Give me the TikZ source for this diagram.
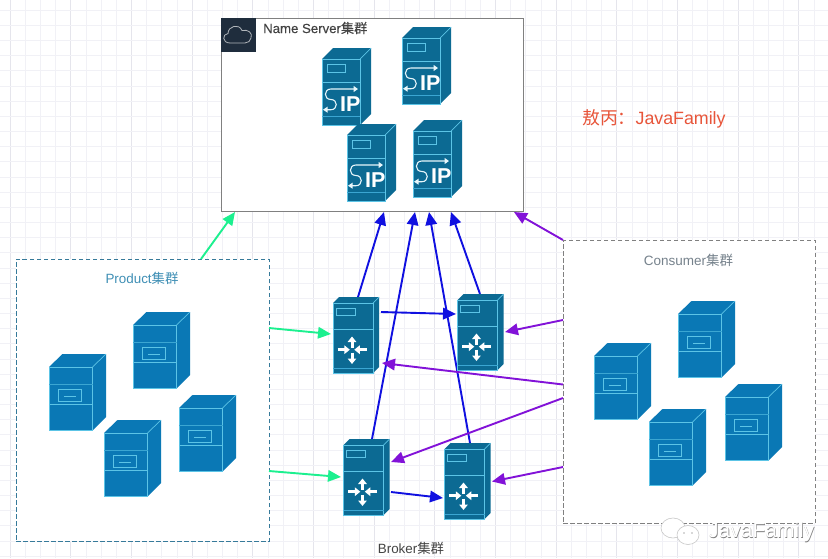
\documentclass[tikz,border=0pt]{standalone}
\usepackage{fontspec}
\setmainfont{Liberation Sans}
\newfontfamily\cjk{Noto Sans CJK SC}
\newfontfamily\cjkb[FakeBold=0.3]{Noto Sans CJK SC}
\newfontfamily\latb[FakeBold=0.3]{Liberation Sans}
\usetikzlibrary{arrows.meta}
\definecolor{gridminor}{HTML}{F1F1F6}
\definecolor{gridmajor}{HTML}{E5E5EC}
\definecolor{clientblue}{HTML}{0A78B5}
\definecolor{routerblue}{HTML}{0C6A93}
\definecolor{edgeblue}{HTML}{5CC4E6}
\definecolor{darksq}{HTML}{1F2D3D}
\definecolor{agreen}{HTML}{1CF08F}
\definecolor{ablue}{HTML}{1010E0}
\definecolor{apurple}{HTML}{8212D8}
\definecolor{prodtxt}{HTML}{3F8FB5}
\definecolor{constxt}{HTML}{76828C}
\definecolor{nametxt}{HTML}{444444}
\definecolor{redtxt}{HTML}{E8553A}
\newcommand{\fsz}[1]{\fontsize{#1}{#1}\selectfont}
\tikzset{
  x=1pt,y=-1pt,
  hold/.style={inner sep=0pt,outer sep=0pt,minimum width=#1},
  gl/.style={line width=.7pt,draw=edgeblue},
  gf/.style={line width=.4pt,draw=edgeblue!60!clientblue},
  flow/.style={line width=1.9pt,-{Triangle[length=13pt,width=11.5pt]}},
  greenflow/.style={flow,agreen},
  blueflow/.style={flow,ablue},
  purpleflow/.style={flow,apurple},
  whitearrow/.style={line width=3pt,white,-{Triangle[length=5.5pt,width=8.5pt]}},
  client/.pic={
    \fill[clientblue] (0,0) -- (13.5,-13) -- (57,-13) -- (57,50) -- (43.5,63.5) -- (0,63.5) -- cycle;
    \draw[gl] (0,0) rectangle (43.5,63.5);
    \draw[gl] (43.5,0) -- (57,-13);
    \draw[gf] (0,17.5) -- (43.5,17.5);
    \draw[gl] (0,37.5) -- (43.5,37.5);
    \draw[gl] (9,22) rectangle (32,34.3);
    \draw[gl] (15,29) -- (27,29);
  },
  ipsrv/.pic={
    \fill[routerblue] (0,0) -- (11,-11) -- (49,-11) -- (49,55) -- (38,66) -- (0,66) -- cycle;
    \draw[gl] (0,0) rectangle (38,66);
    \draw[gl] (38,0) -- (49,-11);
    \draw[gl] (0,23) -- (38,23);
    \draw[gf] (0,57) -- (38,57);
    \draw[gl] (5,5.5) rectangle (23.5,13);
    \draw[white!85!edgeblue,line width=1.1pt,-{Triangle[length=4.5pt,width=6pt]}] (5,50.7) -- (9,50.7) .. controls (16,50.7) and (16,40.5) .. (9,40.5) .. controls (1.5,40.5) and (1.5,30) .. (9,30) -- (36,30);
    \fill[white!85!edgeblue] (1,50.7) -- (5.5,47.7) -- (5.5,53.7) -- cycle;
    \node[font=\bfseries\fsz{21.5},text=white,inner sep=0pt] at (28.3,45.5) {IP};
  },
  router/.pic={
    \fill[routerblue] (0,0) -- (6,-6) -- (46,-6) -- (46,64) -- (40,70) -- (0,70) -- cycle;
    \draw[gl] (0,0) rectangle (40,70);
    \draw[gl] (40,0) -- (46,-6);
    \draw[gl] (0,26.7) -- (40,26.7);
    \draw[gf] (0,65) -- (40,65);
    \draw[gl] (3.3,5) rectangle (22,12.3);
    \draw[whitearrow] (19,44.5) -- (19,33.5);
    \draw[whitearrow] (19,49.5) -- (19,61);
    \draw[whitearrow] (4.5,46.7) -- (16.8,46.7);
    \draw[whitearrow] (33.5,46.7) -- (21.3,46.7);
  },
}
\begin{document}
\begin{tikzpicture}
\useasboundingbox (0,0) rectangle (828,558);
\fill[white] (0,0) rectangle (828,558);
% background grid
\foreach \k in {0,...,54} {
  \pgfmathsetmacro{\px}{10+15.17*\k}
  \pgfmathtruncatemacro{\mj}{mod(\k,4)}
  \ifnum\mj=0 \draw[gridmajor,line width=.7pt] (\px,0) -- (\px,558);
  \else \draw[gridminor,line width=.7pt] (\px,0) -- (\px,558); \fi
}
\foreach \k in {0,...,36} {
  \pgfmathsetmacro{\py}{10+15.17*\k}
  \draw[gridminor,line width=.7pt] (0,\py) -- (828,\py);
}
% containers
\node[draw=black!50,fill=white,line width=.9pt,minimum width=302pt,minimum height=193pt,inner sep=0pt] (nameBox) at (372,114.5) {};
\node[draw=prodtxt!85!black,fill=white,dash pattern=on 4.5pt off 2.5pt,line width=.85pt,minimum width=253pt,minimum height=282pt,inner sep=0pt] (prodBox) at (142.5,400) {};
\node[draw=black!50,fill=white,dash pattern=on 4.5pt off 2.5pt,line width=.85pt,minimum width=252pt,minimum height=283pt,inner sep=0pt] (consBox) at (689,381.5) {};
% broker placeholders for connector ends
\node[hold=46pt,minimum height=76pt] (rA) at (356,335) {};
\node[hold=46pt,minimum height=76pt] (rB) at (480.5,332) {};
\node[hold=46pt,minimum height=76pt] (rC) at (366.5,477) {};
\node[hold=46pt,minimum height=76pt] (rD) at (467.5,481) {};
% connectors
\draw[greenflow] ([shift={(58.5,-141)}]prodBox.center) -- ([shift={(-137,97.5)}]nameBox.center);
\draw[greenflow] ([shift={(126.5,-72)}]prodBox.center) -- ([shift={(-25,-1)}]rA.center);
\draw[greenflow] ([shift={(126.5,71)}]prodBox.center) -- ([shift={(-25.5,0)}]rC.center);
\draw[blueflow] ([shift={(2,-38)}]rA.center) -- ([shift={(12,97.5)}]nameBox.center);
\draw[blueflow] ([shift={(-0.5,-38)}]rB.center) -- ([shift={(79,97.5)}]nameBox.center);
\draw[blueflow] ([shift={(5.5,-38)}]rC.center) -- ([shift={(43,97.5)}]nameBox.center);
\draw[blueflow] ([shift={(2.5,-38)}]rD.center) -- ([shift={(57,97.5)}]nameBox.center);
\draw[purpleflow] ([shift={(-126,-141.5)}]consBox.center) -- ([shift={(142,97.5)}]nameBox.center);
\draw[purpleflow] ([shift={(-126,-61.5)}]consBox.center) -- ([shift={(24.5,0)}]rB.center);
\draw[purpleflow] ([shift={(-126,3)}]consBox.center) -- ([shift={(26,28)}]rA.center);
\draw[purpleflow] ([shift={(-126,16.5)}]consBox.center) -- ([shift={(24.5,-15)}]rC.center);
\draw[purpleflow] ([shift={(-126,85.5)}]consBox.center) -- ([shift={(24.5,0.5)}]rD.center);
% icon in the name server box
\fill[darksq] (221,18) rectangle (255.5,52);
\draw[white!65!darksq,line width=.8pt,line join=round] (230,43) .. controls (222,43) and (222,34) .. (228,33.5)
  .. controls (228,26) and (239,23) .. (242,30.5)
  .. controls (248,29) and (253,33) .. (251,38)
  .. controls (250.5,41) and (248,43) .. (245,43) -- cycle;
% name servers
\pic at (322,59) {ipsrv};
\pic at (402,38) {ipsrv};
\pic at (347,135) {ipsrv};
\pic at (413,131) {ipsrv};
% routers
\pic at (333,303) {router};
\pic at (457.5,300) {router};
\pic at (343.5,445) {router};
\pic at (444.5,449) {router};
% product servers
\pic at (49,367) {client};
\pic at (133,325) {client};
\pic at (104,433) {client};
\pic at (179,408) {client};
% consumer servers
\pic at (594,356) {client};
\pic at (678,314) {client};
\pic at (649,422) {client};
\pic at (725,397) {client};
% broker arrows drawn over routers
\draw[blueflow] ([shift={(25,-23)}]rA.center) -- ([shift={(-24.5,-18)}]rB.center);
\draw[blueflow] ([shift={(24.5,15)}]rC.center) -- ([shift={(-24.5,17)}]rD.center);
% labels
\node[anchor=west,inner sep=0pt,text=nametxt,font=\fsz{13.2}] (nameLbl) at (263,28) {{\latb Name Server}{\cjkb 集群}};
\node[inner sep=0pt,text=prodtxt,font=\fsz{13.4}] (prodLbl) at (142,278) {Product{\cjk 集群}};
\node[inner sep=0pt,text=constxt,font=\fsz{13.5}] (consLbl) at (688.5,260) {Consumer{\cjk 集群}};
\node[inner sep=0pt,text=nametxt,font=\fsz{13.4}] (brokerLbl) at (411,548) {Broker{\cjk 集群}};
\node[anchor=west,inner sep=0pt,text=redtxt,font=\fsz{17.8}] (authorLbl) at (582,119) {{\cjk 敖丙：}JavaFamily};
% watermark
\draw[black!22,fill=white,line width=.6pt] (673,528) ellipse (12 and 10);
\draw[black!22,fill=white,line width=.6pt] (688,535) ellipse (11 and 9.5);
\fill[black!30] (684,533) circle (.9) (692,533) circle (.9);
\node[anchor=west,inner sep=0pt,text=black!50,font=\fsz{21}] (markShadow) at (708.6,532.6) {JavaFamily};
\node[anchor=west,inner sep=0pt,text=white,font=\fsz{21}] (markLbl) at (708,532) {JavaFamily};
\end{tikzpicture}
\end{document}
